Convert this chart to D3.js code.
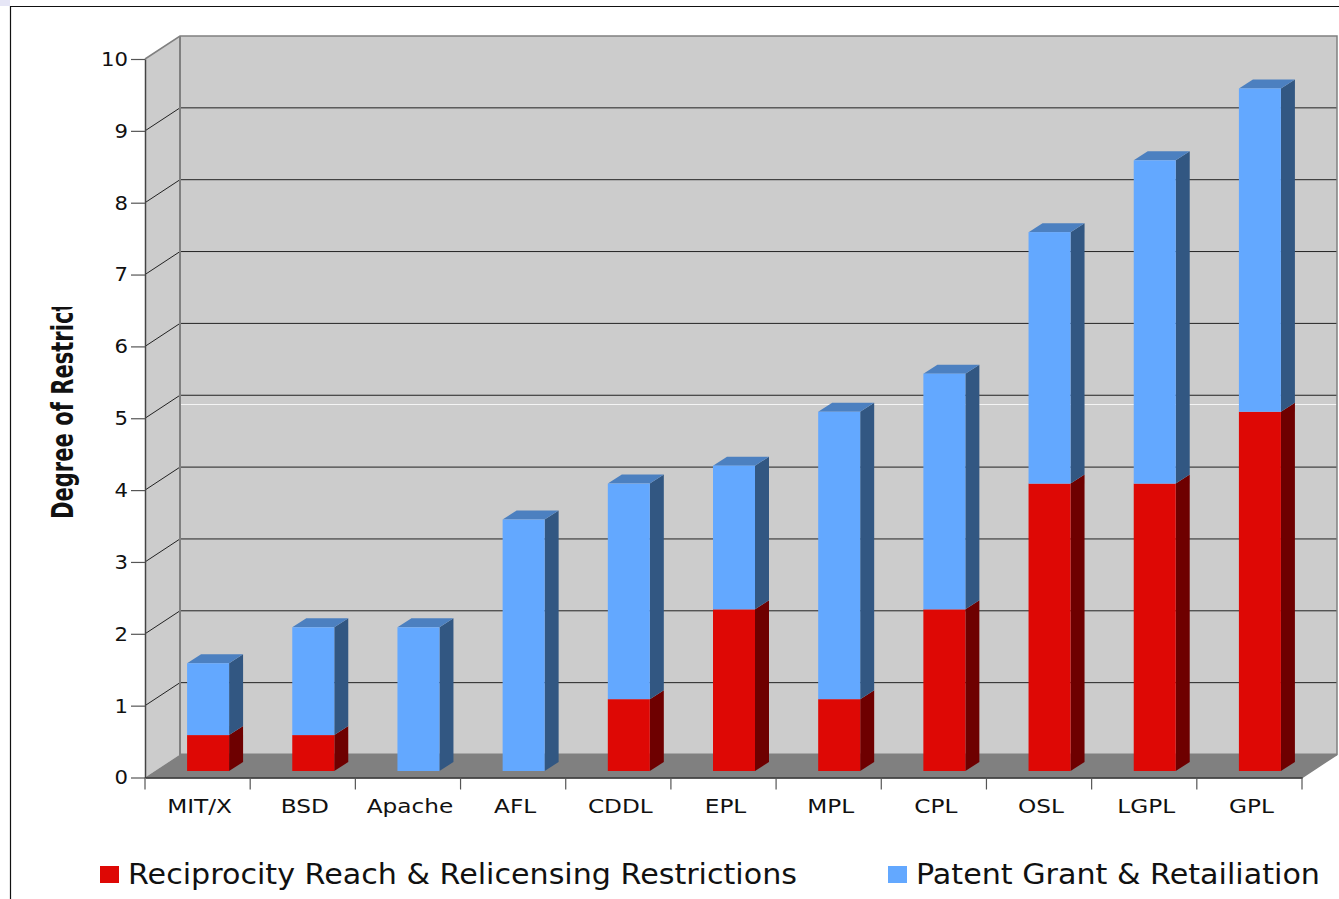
<!DOCTYPE html>
<meta charset="utf-8">
<head>
<style>
  html, body { margin: 0; padding: 0; background: #fff; }
  svg { display: block; }
  text { font-family: "DejaVu Sans", sans-serif; fill: #111; }
  .tick text { font-size: 20px; }
</style>
<script src="https://d3js.org/d3.v7.min.js"></script>
</head>
<body>
<div id="chart"></div>
<script>
var licenses = ["MIT/X", "BSD", "Apache", "AFL", "CDDL", "EPL", "MPL", "CPL", "OSL", "LGPL", "GPL"];
var reciprocity = [0.5, 0.5, 0, 0, 1, 2.25, 1, 2.25, 4, 4, 5];
var patent = [1, 1.5, 2, 3.5, 3, 2, 4, 3.28, 3.5, 4.5, 4.5];
var yTicks = [0, 1, 2, 3, 4, 5, 6, 7, 8, 9, 10];
var seriesNames = ["Reciprocity Reach & Relicensing Restrictions", "Patent Grant & Retailiation"];

var width = 1339, height = 899;
var left = 145, right = 1302, bottom = 777.5, top_ = 59;
var depthX = 35, depthY = 23;       // wall depth
var barDx = 10.5, barDy = 6.5;      // bars stand a little way into the floor
var barW = 42, barDepthX = 14, barDepthY = 9;

var svg = d3.select("#chart").append("svg").attr("width", width).attr("height", height);

var x = d3.scaleBand().domain(licenses).range([left, right]);
var y = d3.scaleLinear().domain([0, 10]).range([bottom, top_]);

function poly(pts, fill, stroke) {
    return svg.append("polygon")
        .attr("points", pts.map(function (p) { return p.join(","); }).join(" "))
        .attr("fill", fill)
        .attr("stroke", stroke || "none");
}

// stretch a text sideways without moving its anchor
function stretch(sel, k) {
    sel.each(function () {
        var len = this.getComputedTextLength();
        d3.select(this).attr("textLength", len * k).attr("lengthAdjust", "spacingAndGlyphs");
    });
}

// page frame
svg.append("rect").attr("width", 10).attr("height", 6).attr("fill", "#e6e6f6");
svg.append("path").attr("d", "M10.5,899V6.5H1339").attr("fill", "none").attr("stroke", "#111").attr("stroke-width", 1.2);

// walls and floor
poly([[left, y(0)], [left + depthX, y(0) - depthY], [left + depthX, y(10) - depthY], [left, y(10)]], "#cccccc");
poly([[left + depthX, y(0) - depthY], [right + depthX, y(0) - depthY], [right + depthX, y(10) - depthY], [left + depthX, y(10) - depthY]], "#cccccc");
poly([[left, y(0)], [right, y(0)], [right + depthX, y(0) - depthY], [left + depthX, y(0) - depthY]], "#808080");

// gridlines
var grid = svg.append("g").attr("fill", "none").attr("stroke", "#222").attr("stroke-width", 1);
yTicks.slice(1, -1).forEach(function (t) {
    grid.append("path").attr("d", "M" + left + "," + y(t) + "L" + (left + depthX) + "," + (y(t) - depthY) + "H" + (right + depthX));
});

// stray white line in the wall
svg.append("line").attr("x1", left + depthX).attr("x2", right + depthX)
    .attr("y1", 404.5).attr("y2", 404.5)
    .attr("stroke", "#f4f4f4").attr("stroke-width", 1);

// wall edges
svg.append("path")
    .attr("d", "M" + left + "," + y(10) + "L" + (left + depthX) + "," + (y(10) - depthY) + "H" + (right + depthX) + "V" + (y(0) - depthY) + "L" + right + "," + y(0))
    .attr("fill", "none").attr("stroke", "#808080").attr("stroke-width", 1.5);
svg.append("path")
    .attr("d", "M" + (left + depthX) + "," + (y(10) - depthY) + "V" + (y(0) - depthY) + "H" + (right + depthX))
    .attr("fill", "none").attr("stroke", "#808080").attr("stroke-width", 2);

// bars
function segment(i, from, to, front, side, topFill) {
    if (to === from) return;
    var x0 = x(licenses[i]) + (x.bandwidth() - barW) / 2 + barDx;
    var x1 = x0 + barW;
    var y0 = y(from) - barDy, y1 = y(to) - barDy;
    poly([[x1, y0], [x1 + barDepthX, y0 - barDepthY], [x1 + barDepthX, y1 - barDepthY], [x1, y1]], side);
    if (topFill) poly([[x0, y1], [x1, y1], [x1 + barDepthX, y1 - barDepthY], [x0 + barDepthX, y1 - barDepthY]], topFill);
    svg.append("rect").attr("x", x0).attr("y", y1).attr("width", barW).attr("height", y0 - y1).attr("fill", front);
}
licenses.forEach(function (d, i) {
    segment(i, 0, reciprocity[i], "#de0805", "#6e0000");
    segment(i, reciprocity[i], reciprocity[i] + patent[i], "#63a8ff", "#325782", "#4c80c0");
});

// axes
var yAxis = svg.append("g").attr("transform", "translate(" + left + ",0)")
    .call(d3.axisLeft(y).tickValues(yTicks).tickSize(14).tickPadding(3).tickSizeOuter(0));
yAxis.select(".domain").attr("stroke", "#444").attr("stroke-width", 1.5);
yAxis.selectAll(".tick line").attr("stroke", "#555").attr("stroke-width", 1.2);
yAxis.selectAll("text").style("font-family", "'DejaVu Sans'").style("font-size", "20px").attr("fill", "#111").call(stretch, 1.06);

var xAxis = svg.append("g").attr("transform", "translate(0," + bottom + ")")
    .call(d3.axisBottom(x).tickSize(0).tickPadding(21));
xAxis.select(".domain").attr("stroke", "#222").attr("stroke-width", 1.5);
xAxis.selectAll("text").style("font-family", "'DejaVu Sans'").style("font-size", "20px").attr("fill", "#111").attr("dx", 2).call(stretch, 1.16);
var sep = licenses.map(function (d) { return x(d); }).concat([right]);
xAxis.selectAll("line.sep").data(sep).enter().append("line").attr("class", "sep")
    .attr("x1", function (d) { return d; }).attr("x2", function (d) { return d; })
    .attr("y1", 0).attr("y2", 12).attr("stroke", "#555").attr("stroke-width", 1.2);

// axis title, cut off in the original
svg.append("clipPath").attr("id", "titleClip").append("rect").attr("x", 40).attr("y", 307).attr("width", 50).attr("height", 230);
svg.append("g").attr("clip-path", "url(#titleClip)")
    .append("text")
    .attr("transform", "translate(73,519) rotate(-90) scale(0.68,1)")
    .style("font-family", "'DejaVu Sans'")
    .style("font-weight", "bold")
    .style("font-size", "31px")
    .text("Degree of Restriction");

// legend
var legendX = [100, 888], legendColor = ["#de0805", "#63a8ff"], legendLen = [669, 404];
seriesNames.forEach(function (name, i) {
    svg.append("rect").attr("x", legendX[i]).attr("y", 866).attr("width", 19).attr("height", 17).attr("fill", legendColor[i]);
    svg.append("text").attr("x", legendX[i] + 28).attr("y", 884).style("font-size", "28px")
        .attr("textLength", legendLen[i]).attr("lengthAdjust", "spacingAndGlyphs").text(name);
});
</script>
</body>
